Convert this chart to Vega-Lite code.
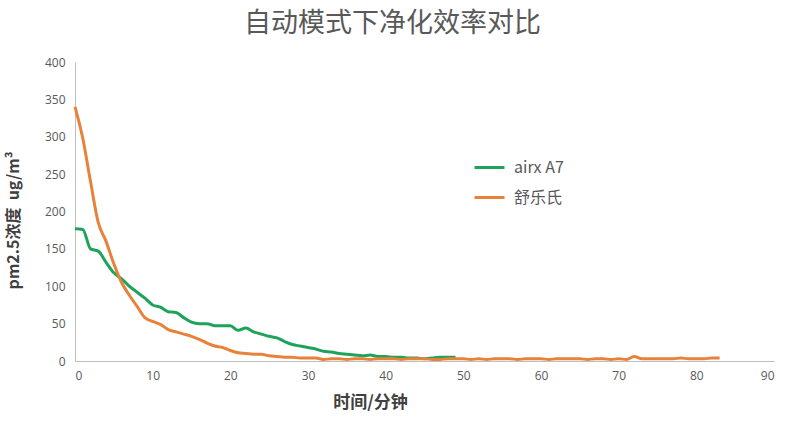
{
  "$schema": "https://vega.github.io/schema/vega-lite/v6.json",
  "autosize": "none",
  "width": 699,
  "height": 299,
  "padding": {"left": 75, "top": 62, "right": 13, "bottom": 85},
  "background": "white",
  "title": {
    "text": "自动模式下净化效率对比",
    "font": "Noto Sans CJK SC",
    "fontSize": 27,
    "fontWeight": "normal",
    "color": "#595959",
    "anchor": "middle",
    "dx": -32,
    "offset": 18
  },
  "config": {
    "view": {"stroke": null},
    "font": "Open Sans"
  },
  "data": {
    "values": [
      {"t": 0, "v": 177, "s": "airx A7"}, {"t": 1, "v": 176, "s": "airx A7"},
      {"t": 2, "v": 150, "s": "airx A7"}, {"t": 3, "v": 147, "s": "airx A7"},
      {"t": 4, "v": 132, "s": "airx A7"}, {"t": 5, "v": 118, "s": "airx A7"},
      {"t": 6, "v": 110, "s": "airx A7"}, {"t": 7, "v": 100, "s": "airx A7"},
      {"t": 8, "v": 92, "s": "airx A7"}, {"t": 9, "v": 84, "s": "airx A7"},
      {"t": 10, "v": 75, "s": "airx A7"}, {"t": 11, "v": 72, "s": "airx A7"},
      {"t": 12, "v": 66, "s": "airx A7"}, {"t": 13, "v": 65, "s": "airx A7"},
      {"t": 14, "v": 58, "s": "airx A7"}, {"t": 15, "v": 52, "s": "airx A7"},
      {"t": 16, "v": 50, "s": "airx A7"}, {"t": 17, "v": 50, "s": "airx A7"},
      {"t": 18, "v": 47, "s": "airx A7"}, {"t": 19, "v": 47, "s": "airx A7"},
      {"t": 20, "v": 47, "s": "airx A7"}, {"t": 21, "v": 41, "s": "airx A7"},
      {"t": 22, "v": 44, "s": "airx A7"}, {"t": 23, "v": 39, "s": "airx A7"},
      {"t": 24, "v": 36, "s": "airx A7"}, {"t": 25, "v": 33, "s": "airx A7"},
      {"t": 26, "v": 31, "s": "airx A7"}, {"t": 27, "v": 26, "s": "airx A7"},
      {"t": 28, "v": 22, "s": "airx A7"}, {"t": 29, "v": 20, "s": "airx A7"},
      {"t": 30, "v": 18, "s": "airx A7"}, {"t": 31, "v": 16, "s": "airx A7"},
      {"t": 32, "v": 13, "s": "airx A7"}, {"t": 33, "v": 12, "s": "airx A7"},
      {"t": 34, "v": 10, "s": "airx A7"}, {"t": 35, "v": 9, "s": "airx A7"},
      {"t": 36, "v": 8, "s": "airx A7"}, {"t": 37, "v": 7, "s": "airx A7"},
      {"t": 38, "v": 8, "s": "airx A7"}, {"t": 39, "v": 6, "s": "airx A7"},
      {"t": 40, "v": 6, "s": "airx A7"}, {"t": 41, "v": 5, "s": "airx A7"},
      {"t": 42, "v": 5, "s": "airx A7"}, {"t": 43, "v": 4, "s": "airx A7"},
      {"t": 44, "v": 4, "s": "airx A7"}, {"t": 45, "v": 3, "s": "airx A7"},
      {"t": 46, "v": 4, "s": "airx A7"}, {"t": 47, "v": 5, "s": "airx A7"},
      {"t": 48, "v": 5, "s": "airx A7"}, {"t": 49, "v": 5, "s": "airx A7"},
      {"t": 0, "v": 340, "s": "舒乐氏"}, {"t": 1, "v": 298, "s": "舒乐氏"},
      {"t": 2, "v": 240, "s": "舒乐氏"}, {"t": 3, "v": 185, "s": "舒乐氏"},
      {"t": 4, "v": 160, "s": "舒乐氏"}, {"t": 5, "v": 130, "s": "舒乐氏"},
      {"t": 6, "v": 105, "s": "舒乐氏"}, {"t": 7, "v": 88, "s": "舒乐氏"},
      {"t": 8, "v": 73, "s": "舒乐氏"}, {"t": 9, "v": 58, "s": "舒乐氏"},
      {"t": 10, "v": 53, "s": "舒乐氏"}, {"t": 11, "v": 49, "s": "舒乐氏"},
      {"t": 12, "v": 42, "s": "舒乐氏"}, {"t": 13, "v": 39, "s": "舒乐氏"},
      {"t": 14, "v": 36, "s": "舒乐氏"}, {"t": 15, "v": 33, "s": "舒乐氏"},
      {"t": 16, "v": 29, "s": "舒乐氏"}, {"t": 17, "v": 24, "s": "舒乐氏"},
      {"t": 18, "v": 20, "s": "舒乐氏"}, {"t": 19, "v": 18, "s": "舒乐氏"},
      {"t": 20, "v": 14, "s": "舒乐氏"}, {"t": 21, "v": 11, "s": "舒乐氏"},
      {"t": 22, "v": 10, "s": "舒乐氏"}, {"t": 23, "v": 9, "s": "舒乐氏"},
      {"t": 24, "v": 9, "s": "舒乐氏"}, {"t": 25, "v": 7, "s": "舒乐氏"},
      {"t": 26, "v": 6, "s": "舒乐氏"}, {"t": 27, "v": 5, "s": "舒乐氏"},
      {"t": 28, "v": 5, "s": "舒乐氏"}, {"t": 29, "v": 4, "s": "舒乐氏"},
      {"t": 30, "v": 4, "s": "舒乐氏"}, {"t": 31, "v": 4, "s": "舒乐氏"},
      {"t": 32, "v": 2, "s": "舒乐氏"}, {"t": 33, "v": 3, "s": "舒乐氏"},
      {"t": 34, "v": 3, "s": "舒乐氏"}, {"t": 35, "v": 2, "s": "舒乐氏"},
      {"t": 36, "v": 3, "s": "舒乐氏"}, {"t": 37, "v": 3, "s": "舒乐氏"},
      {"t": 38, "v": 2, "s": "舒乐氏"}, {"t": 39, "v": 3, "s": "舒乐氏"},
      {"t": 40, "v": 3, "s": "舒乐氏"}, {"t": 41, "v": 3, "s": "舒乐氏"},
      {"t": 42, "v": 2, "s": "舒乐氏"}, {"t": 43, "v": 3, "s": "舒乐氏"},
      {"t": 44, "v": 3, "s": "舒乐氏"}, {"t": 45, "v": 3, "s": "舒乐氏"},
      {"t": 46, "v": 2, "s": "舒乐氏"}, {"t": 47, "v": 2, "s": "舒乐氏"},
      {"t": 48, "v": 3, "s": "舒乐氏"}, {"t": 49, "v": 3, "s": "舒乐氏"},
      {"t": 50, "v": 3, "s": "舒乐氏"}, {"t": 51, "v": 2, "s": "舒乐氏"},
      {"t": 52, "v": 3, "s": "舒乐氏"}, {"t": 53, "v": 2, "s": "舒乐氏"},
      {"t": 54, "v": 3, "s": "舒乐氏"}, {"t": 55, "v": 3, "s": "舒乐氏"},
      {"t": 56, "v": 3, "s": "舒乐氏"}, {"t": 57, "v": 2, "s": "舒乐氏"},
      {"t": 58, "v": 3, "s": "舒乐氏"}, {"t": 59, "v": 3, "s": "舒乐氏"},
      {"t": 60, "v": 3, "s": "舒乐氏"}, {"t": 61, "v": 2, "s": "舒乐氏"},
      {"t": 62, "v": 3, "s": "舒乐氏"}, {"t": 63, "v": 3, "s": "舒乐氏"},
      {"t": 64, "v": 3, "s": "舒乐氏"}, {"t": 65, "v": 3, "s": "舒乐氏"},
      {"t": 66, "v": 2, "s": "舒乐氏"}, {"t": 67, "v": 3, "s": "舒乐氏"},
      {"t": 68, "v": 3, "s": "舒乐氏"}, {"t": 69, "v": 2, "s": "舒乐氏"},
      {"t": 70, "v": 3, "s": "舒乐氏"}, {"t": 71, "v": 2, "s": "舒乐氏"},
      {"t": 72, "v": 6, "s": "舒乐氏"}, {"t": 73, "v": 3, "s": "舒乐氏"},
      {"t": 74, "v": 3, "s": "舒乐氏"}, {"t": 75, "v": 3, "s": "舒乐氏"},
      {"t": 76, "v": 3, "s": "舒乐氏"}, {"t": 77, "v": 3, "s": "舒乐氏"},
      {"t": 78, "v": 4, "s": "舒乐氏"}, {"t": 79, "v": 3, "s": "舒乐氏"},
      {"t": 80, "v": 3, "s": "舒乐氏"}, {"t": 81, "v": 3, "s": "舒乐氏"},
      {"t": 82, "v": 4, "s": "舒乐氏"}, {"t": 83, "v": 4, "s": "舒乐氏"}
    ]
  },
  "mark": {"type": "line", "strokeWidth": 3, "interpolate": "monotone"},
  "encoding": {
    "x": {
      "field": "t",
      "type": "quantitative",
      "scale": {"domain": [0, 90], "nice": false},
      "axis": {
        "values": [0, 10, 20, 30, 40, 50, 60, 70, 80, 90],
        "title": "时间/分钟",
        "titleFont": "Noto Sans CJK SC",
        "titleFontSize": 17,
        "titleFontWeight": "bold",
        "titleColor": "#404040",
        "titleX": 295,
        "titleY": 33,
        "grid": false,
        "ticks": false,
        "domainColor": "#bfbfbf",
        "labelFontSize": 12,
        "labelColor": "#595959",
        "labelPadding": 9
      }
    },
    "y": {
      "field": "v",
      "type": "quantitative",
      "scale": {"domain": [0, 400], "nice": false},
      "axis": {
        "values": [0, 50, 100, 150, 200, 250, 300, 350, 400],
        "title": "pm2.5浓度\u00a0\u00a0ug/m³",
        "titleFont": "Noto Sans CJK SC",
        "titleFontSize": 16,
        "titleFontWeight": "bold",
        "titleColor": "#404040",
        "titleX": -54,
        "titleY": 158,
        "grid": false,
        "ticks": false,
        "domainColor": "#bfbfbf",
        "labelFontSize": 12,
        "labelColor": "#595959",
        "labelPadding": 10
      }
    },
    "color": {
      "field": "s",
      "type": "nominal",
      "scale": {"domain": ["airx A7", "舒乐氏"], "range": ["#1fa35b", "#e8823a"]},
      "legend": {
        "title": null,
        "orient": "none",
        "legendX": 398,
        "legendY": 89,
        "symbolType": "stroke",
        "symbolSize": 900,
        "symbolStrokeWidth": 3,
        "labelFont": "Noto Sans CJK SC",
        "labelFontSize": 16,
        "labelColor": "#595959",
        "rowPadding": 5,
        "labelOffset": 8
      }
    }
  }
}
